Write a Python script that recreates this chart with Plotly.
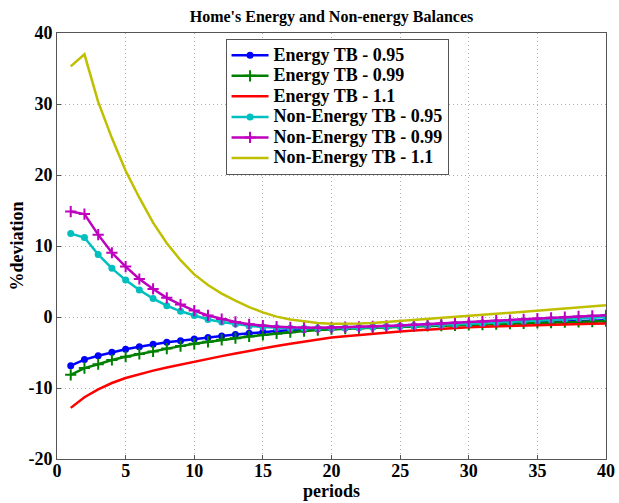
import plotly.graph_objects as go

periods = list(range(1, 41))

energy_095 = [-6.85, -6.0, -5.45, -4.95, -4.55, -4.2, -3.85, -3.55, -3.35, -3.1,
              -2.9, -2.68, -2.47, -2.28, -2.12, -1.98, -1.85, -1.75, -1.66, -1.6,
              -1.54, -1.48, -1.42, -1.36, -1.3, -1.24, -1.18, -1.12, -1.06, -1.0,
              -0.95, -0.9, -0.85, -0.8, -0.75, -0.7, -0.64, -0.58, -0.52, -0.46]

energy_099 = [-8.15, -7.2, -6.65, -6.05, -5.6, -5.2, -4.85, -4.45, -4.1, -3.78,
              -3.5, -3.22, -2.98, -2.75, -2.52, -2.32, -2.14, -1.98, -1.84, -1.72,
              -1.64, -1.57, -1.5, -1.44, -1.38, -1.32, -1.27, -1.22, -1.17, -1.12,
              -1.06, -1.0, -0.95, -0.9, -0.84, -0.79, -0.74, -0.69, -0.64, -0.6]

energy_11 = [-12.8, -11.3, -10.2, -9.3, -8.6, -8.05, -7.55, -7.1, -6.68, -6.3,
             -5.9, -5.51, -5.13, -4.76, -4.4, -4.07, -3.76, -3.46, -3.17, -2.9,
             -2.7, -2.51, -2.34, -2.18, -2.03, -1.89, -1.76, -1.64, -1.54, -1.45,
             -1.38, -1.315, -1.255, -1.2, -1.15, -1.1, -1.055, -1.01, -0.965, -0.92]

nonenergy_095 = [11.75, 11.2, 8.8, 6.85, 5.2, 3.8, 2.6, 1.6, 0.8, 0.2,
                 -0.35, -0.7, -1.0, -1.25, -1.42, -1.52, -1.58, -1.6, -1.6, -1.58,
                 -1.54, -1.5, -1.44, -1.38, -1.32, -1.25, -1.18, -1.11, -1.04, -0.97,
                 -0.88, -0.78, -0.68, -0.58, -0.48, -0.38, -0.28, -0.18, -0.08, 0.0]

nonenergy_099 = [14.85, 14.5, 11.6, 9.05, 7.1, 5.35, 3.95, 2.7, 1.75, 0.9,
                 0.22, -0.28, -0.7, -1.02, -1.22, -1.36, -1.45, -1.5, -1.5, -1.48,
                 -1.44, -1.39, -1.33, -1.26, -1.18, -1.1, -1.01, -0.92, -0.82, -0.72,
                 -0.62, -0.52, -0.42, -0.32, -0.22, -0.12, -0.02, 0.08, 0.17, 0.25]

nonenergy_11 = [35.3, 37.0, 30.3, 25.2, 20.6, 16.8, 13.3, 10.4, 8.0, 6.0,
                4.5, 3.3, 2.3, 1.4, 0.65, 0.05, -0.35, -0.65, -0.85, -0.95,
                -0.97, -0.93, -0.85, -0.72, -0.55, -0.4, -0.26, -0.12, 0.02, 0.16,
                0.3, 0.45, 0.6, 0.75, 0.9, 1.05, 1.2, 1.35, 1.5, 1.65]

x_ticks = [0, 5, 10, 15, 20, 25, 30, 35, 40]
y_ticks = [-20, -10, 0, 10, 20, 30, 40]

FONT = "Liberation Serif, Times New Roman, serif"
SERIF_SPAN = "font-family:'Liberation Serif',serif"

series = [
    ("Energy TB - 0.95", energy_095, "#0000ff", "circle"),
    ("Energy TB - 0.99", energy_099, "#008000", "cross-thin-open"),
    ("Energy TB - 1.1", energy_11, "#ff0000", None),
    ("Non-Energy TB - 0.95", nonenergy_095, "#00bfbf", "circle"),
    ("Non-Energy TB - 0.99", nonenergy_099, "#bf00bf", "cross-thin-open"),
    ("Non-Energy TB - 1.1", nonenergy_11, "#bfbf00", None),
]


def legend_label(text):
    # larger text inside a compact legend row
    return f'<span style="font-size:18px;{SERIF_SPAN}">{text}</span>'


def tick_labels(vals):
    return [f'<span style="{SERIF_SPAN}">{v}</span>' for v in vals]


fig = go.Figure()
for name, vals, color, symbol in series:
    line = dict(color=color, width=2.5)
    if symbol is None:
        fig.add_trace(go.Scatter(x=periods, y=vals, name=legend_label(name),
                                 mode="lines", line=line))
    elif symbol == "circle":
        fig.add_trace(go.Scatter(x=periods, y=vals, name=legend_label(name),
                                 mode="lines+markers", line=line,
                                 marker=dict(symbol="circle", size=7, color=color)))
    else:
        fig.add_trace(go.Scatter(x=periods, y=vals, name=legend_label(name),
                                 mode="lines+markers", line=line,
                                 marker=dict(symbol=symbol, size=8, color=color,
                                             line=dict(color=color, width=2))))

axis_common = dict(
    showline=True, mirror=True, linecolor="#555555", linewidth=1,
    ticks="inside", ticklen=4, tickcolor="#555555",
    showgrid=True, gridcolor="#b0b0b0", griddash="1px,3px", gridwidth=1,
    zeroline=False,
    tickfont=dict(family=FONT, size=18, color="black", weight="bold"),
    ticklabeloverflow="allow",
)

fig.update_layout(
    width=619, height=503,
    margin=dict(l=57, r=4, t=33, b=44),
    paper_bgcolor="white", plot_bgcolor="white",
    font=dict(family=FONT, color="black"),
    title=dict(text="Home's Energy and Non-energy Balances",
               x=0.5, xref="paper", y=0.968, yref="container", yanchor="middle",
               font=dict(family=FONT, size=16, color="black", weight="bold")),
    xaxis=dict(range=[0, 40], tickvals=x_ticks, ticktext=tick_labels(x_ticks),
               ticklabelstandoff=-5,
               title=dict(text="periods", standoff=3,
                          font=dict(family=FONT, size=18, color="black", weight="bold")),
               **axis_common),
    yaxis=dict(range=[-20, 40], tickvals=y_ticks, ticktext=tick_labels(y_ticks),
               title=dict(text="%deviation", standoff=0,
                          font=dict(family=FONT, size=18, color="black", weight="bold")),
               **axis_common),
    legend=dict(x=0.307, y=0.986, xanchor="left", yanchor="top",
                bgcolor="white", bordercolor="#555555", borderwidth=1,
                font=dict(family=FONT, size=13.5, color="black", weight="bold"),
                tracegroupgap=0, itemwidth=37),
    showlegend=True,
)

fig.write_html("out.html")
